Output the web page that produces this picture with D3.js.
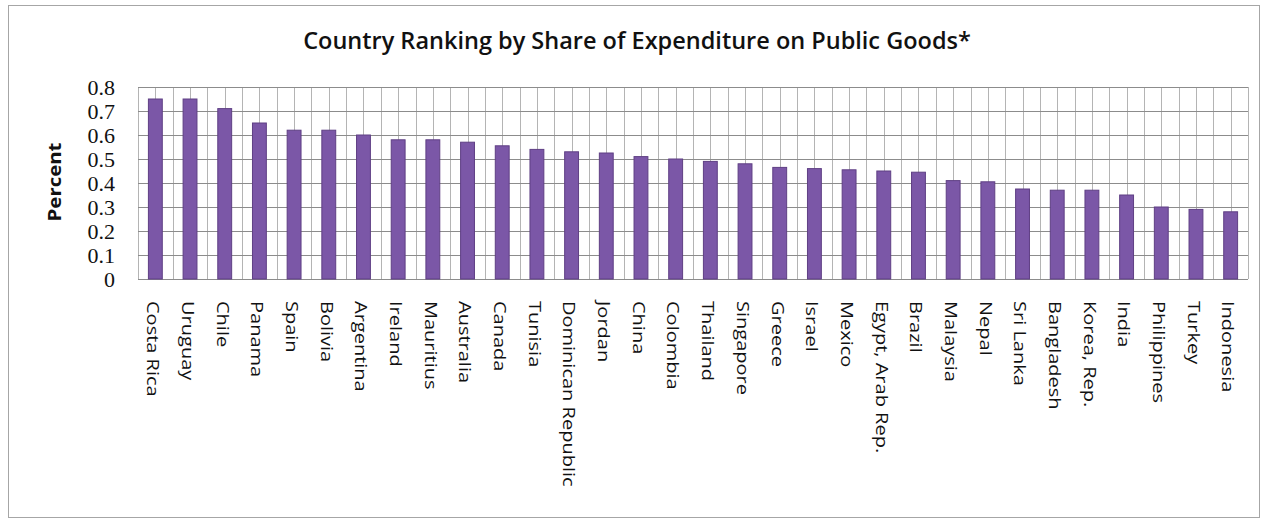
<!DOCTYPE html>
<html>
<head>
<meta charset="utf-8">
<script src="https://cdn.jsdelivr.net/npm/d3@7"></script>
<style>
  body { margin: 0; background: #fff; }
</style>
</head>
<body>
<div id="chart"></div>
<script>
// data
var countries = ['Costa Rica', 'Uruguay', 'Chile', 'Panama', 'Spain', 'Bolivia', 'Argentina',
    'Ireland', 'Mauritius', 'Australia', 'Canada', 'Tunisia', 'Dominican Republic', 'Jordan',
    'China', 'Colombia', 'Thailand', 'Singapore', 'Greece', 'Israel', 'Mexico',
    'Egypt, Arab Rep.', 'Brazil', 'Malaysia', 'Nepal', 'Sri Lanka', 'Bangladesh',
    'Korea, Rep.', 'India', 'Philippines', 'Turkey', 'Indonesia'];
var shares = [0.75, 0.75, 0.71, 0.65, 0.62, 0.62, 0.60,
    0.58, 0.58, 0.57, 0.555, 0.54, 0.53, 0.525,
    0.51, 0.50, 0.49, 0.48, 0.465, 0.46, 0.455,
    0.45, 0.445, 0.41, 0.405, 0.375, 0.37,
    0.37, 0.35, 0.30, 0.29, 0.28];
var yTicks = [0, 0.1, 0.2, 0.3, 0.4, 0.5, 0.6, 0.7, 0.8];
var title = 'Country Ranking by Share of Expenditure on Public Goods*';
var yTitle = 'Percent';

var width = 1262,
    height = 521;
var plot = {left: 138, right: 1248, top: 87, bottom: 279};

var svg = d3.select('#chart')
    .append('svg')
        .attr('width', width)
        .attr('height', height);

// outer frame
svg.append('rect')
    .attr('x', 8.5)
    .attr('y', 5.5)
    .attr('width', 1251)
    .attr('height', 512)
    .attr('fill', '#fff')
    .attr('stroke', '#a6a6a6');

var x = d3.scaleBand()
    .domain(countries)
    .range([plot.left, plot.right])
    .padding(0);

var y = d3.scaleLinear()
    .domain([0, 0.8])
    .range([plot.bottom, plot.top]);

var bw = x.bandwidth();

// vertical grid: band edges and band centres
var vLines = [];
countries.forEach(function (c) {
    vLines.push(x(c));
    vLines.push(x(c) + bw / 2);
});
vLines.push(plot.right);

svg.append('g')
    .selectAll('line')
    .data(vLines)
    .enter()
    .append('line')
        .attr('x1', function (d) { return Math.round(d) + 0.5; })
        .attr('x2', function (d) { return Math.round(d) + 0.5; })
        .attr('y1', plot.top)
        .attr('y2', plot.bottom)
        .attr('stroke', '#b4b4b4')
        .attr('stroke-width', 1);

// horizontal grid
svg.append('g')
    .selectAll('line')
    .data(yTicks)
    .enter()
    .append('line')
        .attr('x1', plot.left)
        .attr('x2', plot.right)
        .attr('y1', function (d) { return Math.round(y(d)) + 0.5; })
        .attr('y2', function (d) { return Math.round(y(d)) + 0.5; })
        .attr('stroke', '#8c8c8c')
        .attr('stroke-width', 1);

// bars
svg.append('g')
    .selectAll('rect')
    .data(shares)
    .enter()
    .append('rect')
        .attr('x', function (d, i) { return x(countries[i]) + bw * 0.3; })
        .attr('y', function (d) { return y(d); })
        .attr('width', bw * 0.4)
        .attr('height', function (d) { return y(0) - y(d); })
        .attr('fill', '#7b57a7')
        .attr('stroke', '#5f3f84')
        .attr('stroke-width', 1);

// y axis labels
var yAxis = d3.axisLeft(y)
    .tickValues(yTicks)
    .tickSize(0)
    .tickPadding(0)
    .tickFormat(function (d) { return d === 0 ? '0' : d3.format('.1f')(d); });

var gy = svg.append('g')
    .attr('transform', 'translate(115,0)')
    .call(yAxis);
gy.select('.domain').remove();
gy.selectAll('text')
    .attr('dy', '0.34em')
    .style('font-family', '"Liberation Serif", serif')
    .style('font-size', '22px')
    .style('fill', '#111');

// x labels, rotated
svg.append('g')
    .selectAll('text')
    .data(countries)
    .enter()
    .append('text')
        .attr('transform', function (d) {
            return 'translate(' + (x(d) + bw / 2 - 2) + ',301) rotate(90) scale(1.25,1)';
        })
        .attr('dominant-baseline', 'central')
        .style('font-family', '"Open Sans", sans-serif')
        .style('font-size', '16px')
        .style('fill', '#111')
        .text(function (d) { return d; });

// axis title
svg.append('text')
    .attr('transform', 'translate(54,182) rotate(-90) scale(1.2,1)')
    .attr('text-anchor', 'middle')
    .attr('dominant-baseline', 'central')
    .style('font-family', '"Open Sans", sans-serif')
    .style('font-weight', 'bold')
    .style('font-size', '17px')
    .style('fill', '#111')
    .text(yTitle);

// chart title
svg.append('text')
    .attr('x', 637)
    .attr('y', 49)
    .attr('text-anchor', 'middle')
    .style('font-family', '"Open Sans", sans-serif')
    .style('font-weight', '600')
    .style('font-size', '23.5px')
    .style('fill', '#111')
    .text(title);
</script>
</body>
</html>
